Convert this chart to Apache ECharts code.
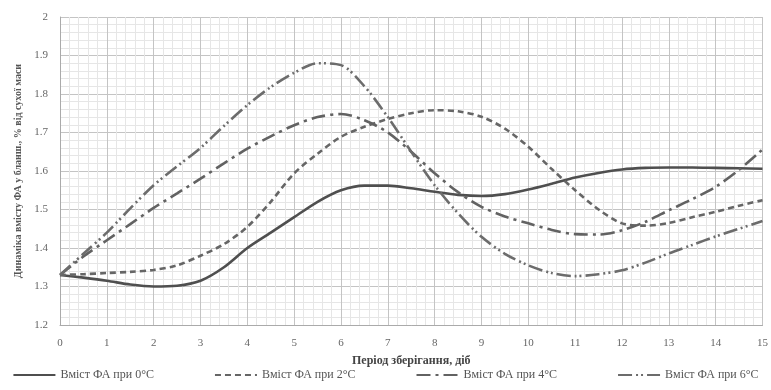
<!DOCTYPE html>
<html>
<head>
<meta charset="utf-8">
<script src="https://cdn.jsdelivr.net/npm/echarts@6/dist/echarts.min.js"></script>
<style type="text/css">
    html, body { margin: 0; padding: 0; background: #fff; }
    #chart { width: 771px; height: 390px; }
</style>
</head>
<body>
<div id="chart"></div>
<script type="text/javascript">
// період зберігання, діб (крок 0.5)
var days = [0, 0.5, 1, 1.5, 2, 2.5, 3, 3.5, 4, 4.5, 5, 5.5, 6, 6.5, 7, 7.5,
            8, 8.5, 9, 9.5, 10, 10.5, 11, 11.5, 12, 12.5, 13, 13.5, 14, 14.5, 15];
// вміст ФА, % від сухої маси
var t0 = [1.33, 1.323, 1.315, 1.305, 1.30, 1.302, 1.315, 1.35, 1.40, 1.44, 1.48, 1.52, 1.55, 1.562, 1.562, 1.555,
          1.546, 1.538, 1.535, 1.54, 1.552, 1.567, 1.583, 1.595, 1.604, 1.608, 1.609, 1.609, 1.608, 1.607, 1.606];
var t2 = [1.33, 1.332, 1.335, 1.338, 1.343, 1.355, 1.38, 1.41, 1.455, 1.52, 1.594, 1.645, 1.689, 1.715, 1.735, 1.75,
          1.758, 1.755, 1.741, 1.71, 1.663, 1.605, 1.55, 1.50, 1.464, 1.458, 1.465, 1.48, 1.494, 1.51, 1.524];
var t4 = [1.33, 1.378, 1.42, 1.462, 1.504, 1.542, 1.58, 1.62, 1.658, 1.69, 1.719, 1.74, 1.748, 1.732, 1.70, 1.65,
          1.594, 1.545, 1.507, 1.482, 1.464, 1.447, 1.436, 1.435, 1.446, 1.468, 1.498, 1.527, 1.559, 1.603, 1.656];
var t6 = [1.33, 1.385, 1.44, 1.503, 1.563, 1.612, 1.66, 1.717, 1.771, 1.818, 1.855, 1.88, 1.875, 1.82, 1.74, 1.65,
          1.563, 1.49, 1.429, 1.385, 1.355, 1.335, 1.327, 1.332, 1.342, 1.362, 1.386, 1.408, 1.43, 1.45, 1.47];
var names = ['Вміст ФА при 0°С', 'Вміст ФА при 2°С', 'Вміст ФА при 4°С', 'Вміст ФА при 6°С'];

var font = '"Liberation Serif", "DejaVu Serif", serif';

function pairs(ys) {
    return days.map(function (d, i) { return [d, ys[i]]; });
}
function line(name, ys, dash, color) {
    return {
        name: name,
        type: 'line',
        data: pairs(ys),
        smooth: 0.3,
        symbol: 'circle',
        showSymbol: false,
        lineStyle: { width: 2.6, color: color, type: dash },
        itemStyle: { color: color }
    };
}

var chart = echarts.init(document.getElementById('chart'));
var option = {
    animation: false,
    grid: { left: 60, right: 8, top: 17, bottom: 65 },
    legend: {
        bottom: 4,
        left: 'center',
        itemWidth: 42,
        itemHeight: 10,
        itemGap: 60,
        itemStyle: { opacity: 0 },
        textStyle: { fontFamily: font, fontSize: 12, color: '#555' },
        data: names
    },
    xAxis: {
        type: 'value',
        min: 0, max: 15, interval: 1,
        name: 'Період зберігання, діб',
        nameLocation: 'middle',
        nameGap: 30,
        nameTextStyle: { fontFamily: font, fontSize: 12, fontWeight: 'bold', color: '#444' },
        axisLine: { lineStyle: { color: '#aaa' } },
        axisTick: { show: false },
        axisLabel: { fontFamily: font, fontSize: 11, color: '#666', margin: 13 },
        splitLine: { lineStyle: { color: '#c4c4c4', width: 1 } },
        minorTick: { show: false, splitNumber: 5 },
        minorSplitLine: { show: true, lineStyle: { color: '#e6e6e6', width: 1 } }
    },
    yAxis: {
        type: 'value',
        min: 1.2, max: 2.0, interval: 0.1,
        name: 'Динаміка вмісту ФА у бланш., % від сухої маси',
        nameLocation: 'middle',
        nameGap: 30,
        nameTextStyle: { fontFamily: font, fontSize: 10, fontWeight: 'bold', color: '#555' },
        axisLine: { show: true, lineStyle: { color: '#aaa' } },
        axisTick: { show: false },
        axisLabel: {
            fontFamily: font, fontSize: 11, color: '#666', margin: 12,
            formatter: function (v) { return String(+v.toFixed(1)); }
        },
        splitLine: { lineStyle: { color: '#c4c4c4', width: 1 } },
        minorTick: { show: false, splitNumber: 5 },
        minorSplitLine: { show: true, lineStyle: { color: '#e6e6e6', width: 1 } }
    },
    series: [
        line(names[0], t0, 'solid', '#4f4f4f'),
        line(names[1], t2, [6, 4], '#666'),
        line(names[2], t4, [14, 5, 3, 5], '#626262'),
        line(names[3], t6, [14, 4, 2, 3, 2, 4], '#6c6c6c')
    ]
};
chart.setOption(option);
</script>
</body>
</html>
